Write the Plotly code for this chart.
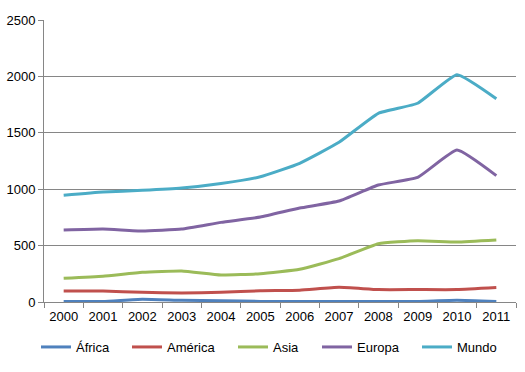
import plotly.graph_objects as go

years = ["2000", "2001", "2002", "2003", "2004", "2005", "2006", "2007", "2008", "2009", "2010", "2011"]
africa = [5, 5, 25, 15, 12, 5, 5, 5, 5, 5, 15, 5]
america = [97, 97, 86, 80, 87, 100, 104, 130, 110, 110, 110, 128]
asia = [210, 228, 263, 275, 239, 251, 290, 384, 517, 543, 532, 550]
europa = [638, 647, 629, 647, 706, 753, 833, 895, 1037, 1105, 1347, 1120]
mundo = [946, 975, 990, 1010, 1050, 1110, 1230, 1416, 1673, 1762, 2015, 1802]

series = [
    ("África", africa, "#4F81BD"),
    ("América", america, "#C0504D"),
    ("Asia", asia, "#9BBB59"),
    ("Europa", europa, "#8064A2"),
    ("Mundo", mundo, "#4BACC6"),
]

W, H = 525, 372
legend_x_px = [36, 127, 233, 317, 417]
legend_y_px = 347

fig = go.Figure()
layout_legends = {}
for i, (name, vals, color) in enumerate(series):
    key = "legend" if i == 0 else f"legend{i + 1}"
    fig.add_trace(go.Scatter(
        x=years, y=vals, name=name, mode="lines", legend=key,
        line=dict(color=color, width=3, shape="spline", smoothing=0.4),
    ))
    layout_legends[key] = dict(
        orientation="h", xref="container", yref="container",
        x=legend_x_px[i] / W, xanchor="left",
        y=1 - legend_y_px / H, yanchor="middle",
        font=dict(size=13), bgcolor="rgba(0,0,0,0)",
    )

fig.update_layout(
    width=W, height=H,
    margin=dict(l=44, r=9, t=20, b=70, autoexpand=False),
    paper_bgcolor="white", plot_bgcolor="white",
    font=dict(family="Liberation Sans, Arial, sans-serif", size=13, color="#000000"),
    showlegend=True,
    xaxis=dict(type="category", showgrid=False, showline=True, linecolor="#868686",
               linewidth=1, ticks="outside", tickson="boundaries", ticklen=5,
               tickcolor="#868686", zeroline=False, range=[-0.5, 11.5], automargin=False,
               ticklabelstandoff=2),
    yaxis=dict(range=[0, 2500], dtick=500, showgrid=True, gridcolor="#868686",
               gridwidth=1, showline=True, linecolor="#868686", linewidth=1,
               ticks="outside", ticklen=5, tickcolor="#868686", zeroline=False,
               automargin=False),
    **layout_legends,
)

fig.write_html("out.html",
               config={"displayModeBar": False},
               post_script="document.body.style.margin='0';document.body.style.overflow='hidden';")
